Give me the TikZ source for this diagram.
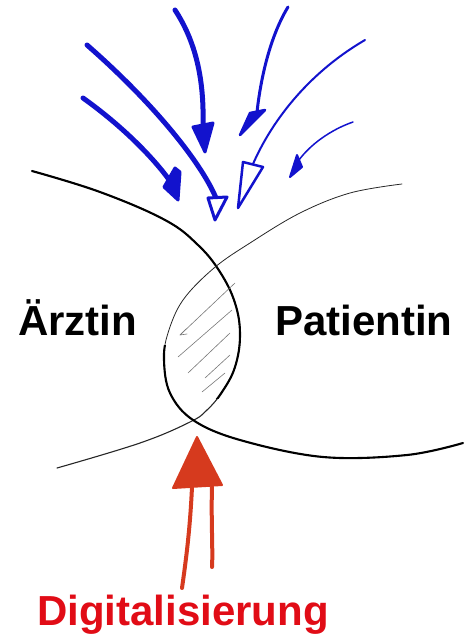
\documentclass[tikz,border=0pt]{standalone}
\usepackage{fontspec}
\setmainfont{Liberation Sans}
\definecolor{pen}{RGB}{18,18,205}
\definecolor{redpen}{RGB}{214,58,30}
\definecolor{redtext}{RGB}{225,12,22}
\definecolor{hatch}{RGB}{120,120,120}
\tikzset{
  bigtext/.style={font=\fontsize{42}{48}\selectfont\bfseries, inner sep=0pt, anchor=base west},
  bluearrow/.style={draw=pen, line cap=round},
  headopen/.style={draw=pen, fill=white, line join=round},
  headfull/.style={draw=pen, fill=pen, line join=round},
  thickline/.style={draw=black, line width=2.1pt, line cap=round},
  thinline/.style={draw=black!85, line width=0.8pt, line cap=round},
  hatchline/.style={draw=hatch, line width=0.6pt, line cap=round},
  redleg/.style={draw=redpen, line width=4pt, line cap=round}
}
\begin{document}
\begin{tikzpicture}[x=1pt,y=-1pt]
\useasboundingbox (0,0) rectangle (464,635);

% ---- text nodes
\node[bigtext] (arzt) at (18,335) {Ärztin};
\node[bigtext] (pat) at (275,335) {Patientin};
\node[bigtext, text=redtext] (dig) at (37,625) {Digitalisierung};

% ---- curve A (from top left, right side of lens, tail to bottom left)
\def\curveA{plot[smooth, tension=0.65] coordinates {(32,171) (100,192) (165,220) (198,245) (220,272) (235,303) (240,335) (235,367) (222,392) (207,410) (190,422) (140,443) (57,468)}}
\draw[thinline, line width=1.1pt] \curveA;
\begin{scope}
  \clip (0,0) rectangle (464,398);
  \draw[thickline] \curveA;
\end{scope}

% ---- curve B (from top right, left side of lens, tail to bottom right)
\def\curveB{plot[smooth, tension=0.6] coordinates {(402,184) (350,193) (300,213) (250,243) (214,268) (183,300) (168,333) (164,360) (170,393) (193,420) (240,440) (323,457) (407,455) (463,443)}}
\draw[thinline] \curveB;
\begin{scope}
  \clip (0,345) rectangle (464,635);
  \draw[thickline] \curveB;
\end{scope}

% ---- hatching in the lens
\draw[hatchline] (235,283) -- (180,335);
\draw[hatchline] (180,335) -- (186,329) (180,335) -- (187,334);
\draw[hatchline] (232,310) -- (178,357);
\draw[hatchline] (230,333) -- (188,373);
\draw[hatchline] (230,355) -- (205,378);
\draw[hatchline] (225,373) -- (202,392);

% ---- blue arrows: start points and head base points
\coordinate (a1s) at (83,98);   \coordinate (a1e) at (170,181);
\coordinate (a2s) at (87,45);   \coordinate (a2e) at (216,198);
\coordinate (a3s) at (175,10);  \coordinate (a3e) at (203,125);
\coordinate (a4s) at (288,7);   \coordinate (a4e) at (257,112);
\coordinate (a5s) at (365,40);  \coordinate (a5e) at (253,164);
\coordinate (a6s) at (353,122); \coordinate (a6e) at (299,160);

\draw[bluearrow, line width=5pt] (a1s) .. controls (125,128) and (155,160) .. (a1e);
\draw[bluearrow, line width=5pt] (a2s) .. controls (150,100) and (200,160) .. (a2e);
\draw[bluearrow, line width=5pt] (a3s) .. controls (198,45) and (204,85) .. (a3e);
\draw[bluearrow, line width=3pt] (a4s) .. controls (268,40) and (260,85) .. (a4e);
\draw[bluearrow, line width=2pt] (a5s) .. controls (305,75) and (270,125) .. (a5e);
\draw[bluearrow, line width=1.5pt] (a6s) .. controls (330,130) and (310,145) .. (a6e);

% ---- arrow heads
\path[headfull, line width=3pt] (175,168) -- (164,187) -- (178,200) -- (180,172) -- cycle;
\path[headopen, line width=3pt] (208,198) -- (227,197) -- (215,220) -- cycle;
\path[headfull, line width=3pt] (193,127) -- (213,123) -- (205,152) -- cycle;
\path[headfull, line width=2.5pt] (250,113) -- (265,110) -- (240,135) -- cycle;
\path[headopen, line width=2.5pt] (243,162) -- (263,167) -- (238,208) -- cycle;
\path[headfull, line width=2pt] (297,155) -- (302,167) -- (290,177) -- cycle;

% ---- red arrow
\coordinate (rtip) at (197,437);
\coordinate (rl) at (173,488);
\coordinate (rr) at (222,485);
\filldraw[fill=redpen, draw=redpen, line width=2pt, line join=round] (rtip) -- (rl) -- (rr) -- cycle;
\coordinate (ll) at (192,487); \coordinate (lle) at (182,588);
\coordinate (rlg) at (212,487); \coordinate (rle) at (212,567);
\draw[redleg] (ll) .. controls (190,530) and (186,560) .. (lle);
\draw[redleg] (rlg) .. controls (211,520) and (213,550) .. (rle);
\end{tikzpicture}
\end{document}
